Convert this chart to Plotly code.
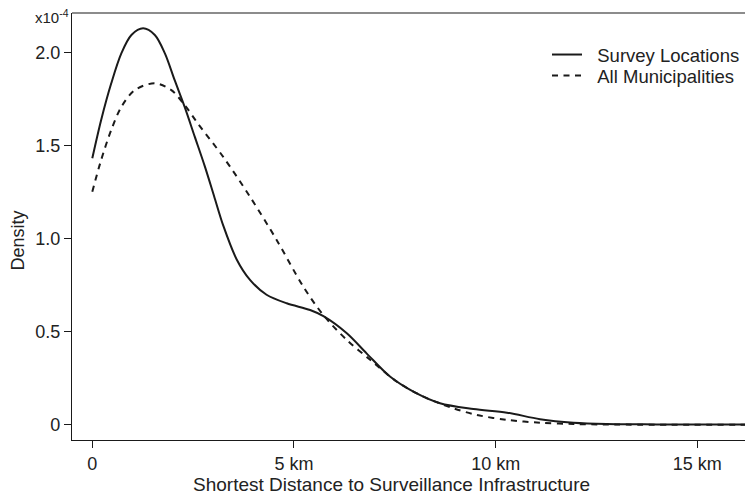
import plotly.graph_objects as go

# Density values in units of 1e-4
survey_x = [0, 0.22, 0.47, 0.72, 0.97, 1.26, 1.55, 1.80, 2.04, 2.29, 2.54, 2.79, 3.02, 3.25,
            3.58, 3.91, 4.32, 4.82, 5.40, 5.73, 6.31, 6.80, 7.38, 7.96, 8.62, 9.45, 10.28,
            11.1, 11.93, 12.75, 14.0, 16.5]
survey_y = [1.434, 1.64, 1.837, 1.998, 2.097, 2.133, 2.097, 1.998, 1.855, 1.71, 1.55, 1.39, 1.23, 1.07,
            0.89, 0.78, 0.70, 0.654, 0.618, 0.585, 0.493, 0.385, 0.26, 0.179, 0.117, 0.086, 0.066,
            0.031, 0.012, 0.005, 0.003, 0.002]

muni_x = [0, 0.22, 0.47, 0.72, 1.05, 1.55, 1.96, 2.29, 2.62, 3.25, 3.91, 4.57, 5.23, 5.73,
          6.31, 6.89, 7.55, 8.21, 8.95, 9.53, 10.28, 11.1, 11.93, 13.0, 16.5]
muni_y = [1.254, 1.425, 1.586, 1.71, 1.80, 1.837, 1.80, 1.72, 1.62, 1.44, 1.227, 0.995, 0.744, 0.59,
          0.457, 0.35, 0.233, 0.152, 0.09, 0.054, 0.027, 0.012, 0.005, 0.002, 0.001]

x_tickvals = [0, 5, 10, 15]
x_ticktext = ["0", "5 km", "10 km", "15 km"]
y_tickvals = [0, 0.5, 1.0, 1.5, 2.0]
y_ticktext = ["0", "0.5", "1.0", "1.5", "2.0"]

FONT = "Liberation Sans, Arial, Helvetica, sans-serif"
INK = "#1a1a1a"
TXT = "#222"
NB = "\u00a0\u00a0"

fig = go.Figure()
fig.add_trace(go.Scatter(x=survey_x, y=survey_y, mode="lines", name=NB + "Survey Locations",
                         legend="legend",
                         line=dict(color=INK, width=2, shape="spline", smoothing=0.9)))
fig.add_trace(go.Scatter(x=muni_x, y=muni_y, mode="lines", name=NB + "All Municipalities",
                         legend="legend2",
                         line=dict(color=INK, width=2, dash="6px,5.5px", shape="spline", smoothing=0.9)))

# plot area: x 72..753, y 13..440 on the page (page body has an 8px margin)
PW, PH = 681, 427


def px_x(px):
    return (px - 72) / PW


def px_y(py):
    return (440 - py) / PH


leg_common = dict(xanchor="left", yanchor="middle", bgcolor="rgba(0,0,0,0)",
                  font=dict(size=18.5, color=TXT), itemwidth=30, borderwidth=0)

fig.update_layout(
    width=745, height=487,
    margin=dict(l=64, r=0, t=5, b=55),
    plot_bgcolor="white", paper_bgcolor="white",
    font=dict(family=FONT, size=18, color=TXT),
    showlegend=True,
    legend=dict(x=px_x(547), y=px_y(55), **leg_common),
    legend2=dict(x=px_x(547), y=px_y(76), **leg_common),
    xaxis=dict(range=[-0.503, 16.38], tickvals=x_tickvals, ticktext=x_ticktext,
               showgrid=False, zeroline=False, showline=True, linecolor=INK, linewidth=1.3,
               ticks="outside", ticklen=7, tickcolor=INK, tickwidth=1,
               tickfont=dict(size=18, color=TXT)),
    yaxis=dict(range=[-0.081, 2.215], tickvals=y_tickvals, ticktext=y_ticktext,
               showgrid=False, zeroline=False, showline=True, linecolor=INK, linewidth=1.3,
               ticks="outside", ticklen=7, tickcolor=INK, tickwidth=1,
               tickfont=dict(size=18, color=TXT)),
    shapes=[dict(type="line", xref="paper", yref="paper", x0=0, x1=1, y0=1, y1=1,
                 line=dict(color="#8c8c8c", width=2))],
    annotations=[
        dict(text="Shortest Distance to Surveillance Infrastructure", xref="paper", yref="paper",
             x=px_x(391.5), y=px_y(485), xanchor="center", yanchor="middle",
             showarrow=False, font=dict(size=19, color=TXT)),
        dict(text="Density", xref="paper", yref="paper", x=px_x(17.5),
             y=px_y(241), xanchor="center", yanchor="middle", textangle=-90,
             showarrow=False, font=dict(size=18, color=TXT)),
        dict(text="x10<sup>-4</sup>", xref="paper", yref="paper", x=px_x(71),
             y=px_y(16), xanchor="right", yanchor="middle",
             showarrow=False, font=dict(size=15, color=TXT)),
    ],
)

fig.write_html("out.html")
